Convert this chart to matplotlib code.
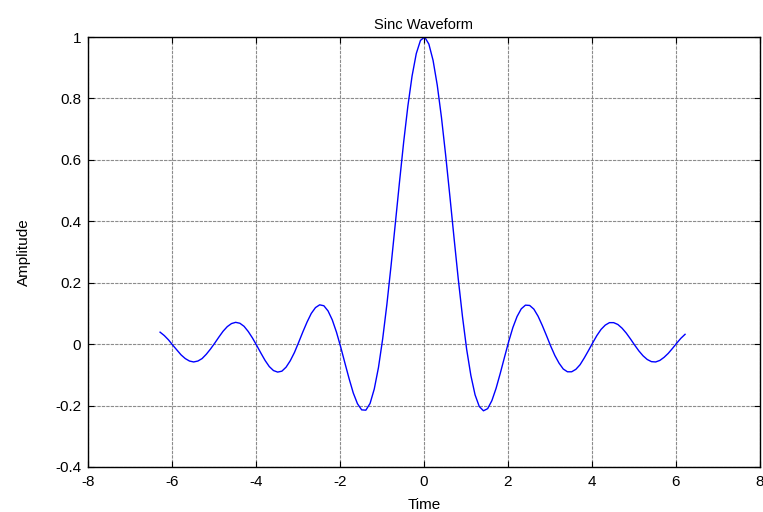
import matplotlib
matplotlib.use("Agg")
import matplotlib.pyplot as plt
import numpy as np

# sampled time axis: -2*pi .. 2*pi, step 0.1
t_start = -2 * np.pi
t_stop = 2 * np.pi
t_step = 0.1

amplitude = [
    0.039, 0.028, 0.014, -0.003, -0.019, -0.035, -0.047, -0.055, -0.058, -0.055,
    -0.047, -0.033, -0.016, 0.003, 0.023, 0.042, 0.057, 0.067, 0.071, 0.068,
    0.058, 0.041, 0.020, -0.004, -0.029, -0.053, -0.073, -0.086, -0.091, -0.088,
    -0.075, -0.054, -0.027, 0.006, 0.040, 0.072, 0.100, 0.119, 0.128, 0.125,
    0.108, 0.079, 0.039, -0.009, -0.061, -0.112, -0.159, -0.194, -0.214, -0.215,
    -0.193, -0.146, -0.076, 0.017, 0.129, 0.256, 0.391, 0.527, 0.658, 0.775,
    0.873, 0.946, 0.989, 1.000, 0.977, 0.924, 0.843, 0.738, 0.615, 0.482,
    0.345, 0.212, 0.090, -0.017, -0.102, -0.165, -0.203, -0.217, -0.210, -0.184,
    -0.144, -0.095, -0.043, 0.008, 0.054, 0.090, 0.115, 0.127, 0.126, 0.114,
    0.091, 0.061, 0.028, -0.006, -0.037, -0.062, -0.081, -0.090, -0.090, -0.082,
    -0.067, -0.045, -0.021, 0.004, 0.028, 0.048, 0.062, 0.070, 0.070, 0.064,
    0.052, 0.036, 0.017, -0.003, -0.022, -0.038, -0.050, -0.057, -0.058, -0.053,
    -0.043, -0.030, -0.014, 0.003, 0.019, 0.032,
]

x_ticks = [-8, -6, -4, -2, 0, 2, 4, 6, 8]
y_ticks = [-0.4, -0.2, 0, 0.2, 0.4, 0.6, 0.8, 1]
y_ticklabels = ["-0.4", "-0.2", "0", "0.2", "0.4", "0.6", "0.8", "1"]

time = np.arange(t_start, t_stop, t_step)[:len(amplitude)]

plt.rcParams['font.family'] = ['Liberation Sans', 'DejaVu Sans']

fig = plt.figure(figsize=(7.63, 5.12), dpi=100)
ax = fig.add_axes([0.1153, 0.0879, 0.8807, 0.8398])

ax.plot(time, amplitude, color='#0000ff', linewidth=1.0)

ax.set_xlim(-8, 8)
ax.set_ylim(-0.4, 1)
ax.set_xticks(x_ticks)
ax.set_xticklabels([str(v) for v in x_ticks])
ax.set_yticks(y_ticks)
ax.set_yticklabels(y_ticklabels)

ax.grid(True, color='0.55', linestyle=(0, (3, 1)), linewidth=0.8)
ax.tick_params(direction='in', length=4, width=0.8, top=True, right=True,
               labelsize=11, colors='black')
ax.tick_params(axis='x', pad=6)
ax.tick_params(axis='y', pad=5)
for spine in ax.spines.values():
    spine.set_linewidth(1.0)

ax.set_title('Sinc Waveform', fontsize=10.5, pad=6)
ax.set_xlabel('Time', fontsize=11, labelpad=6)
ax.set_ylabel('Amplitude', fontsize=11, labelpad=17)

fig.savefig('out.png', dpi=100)
